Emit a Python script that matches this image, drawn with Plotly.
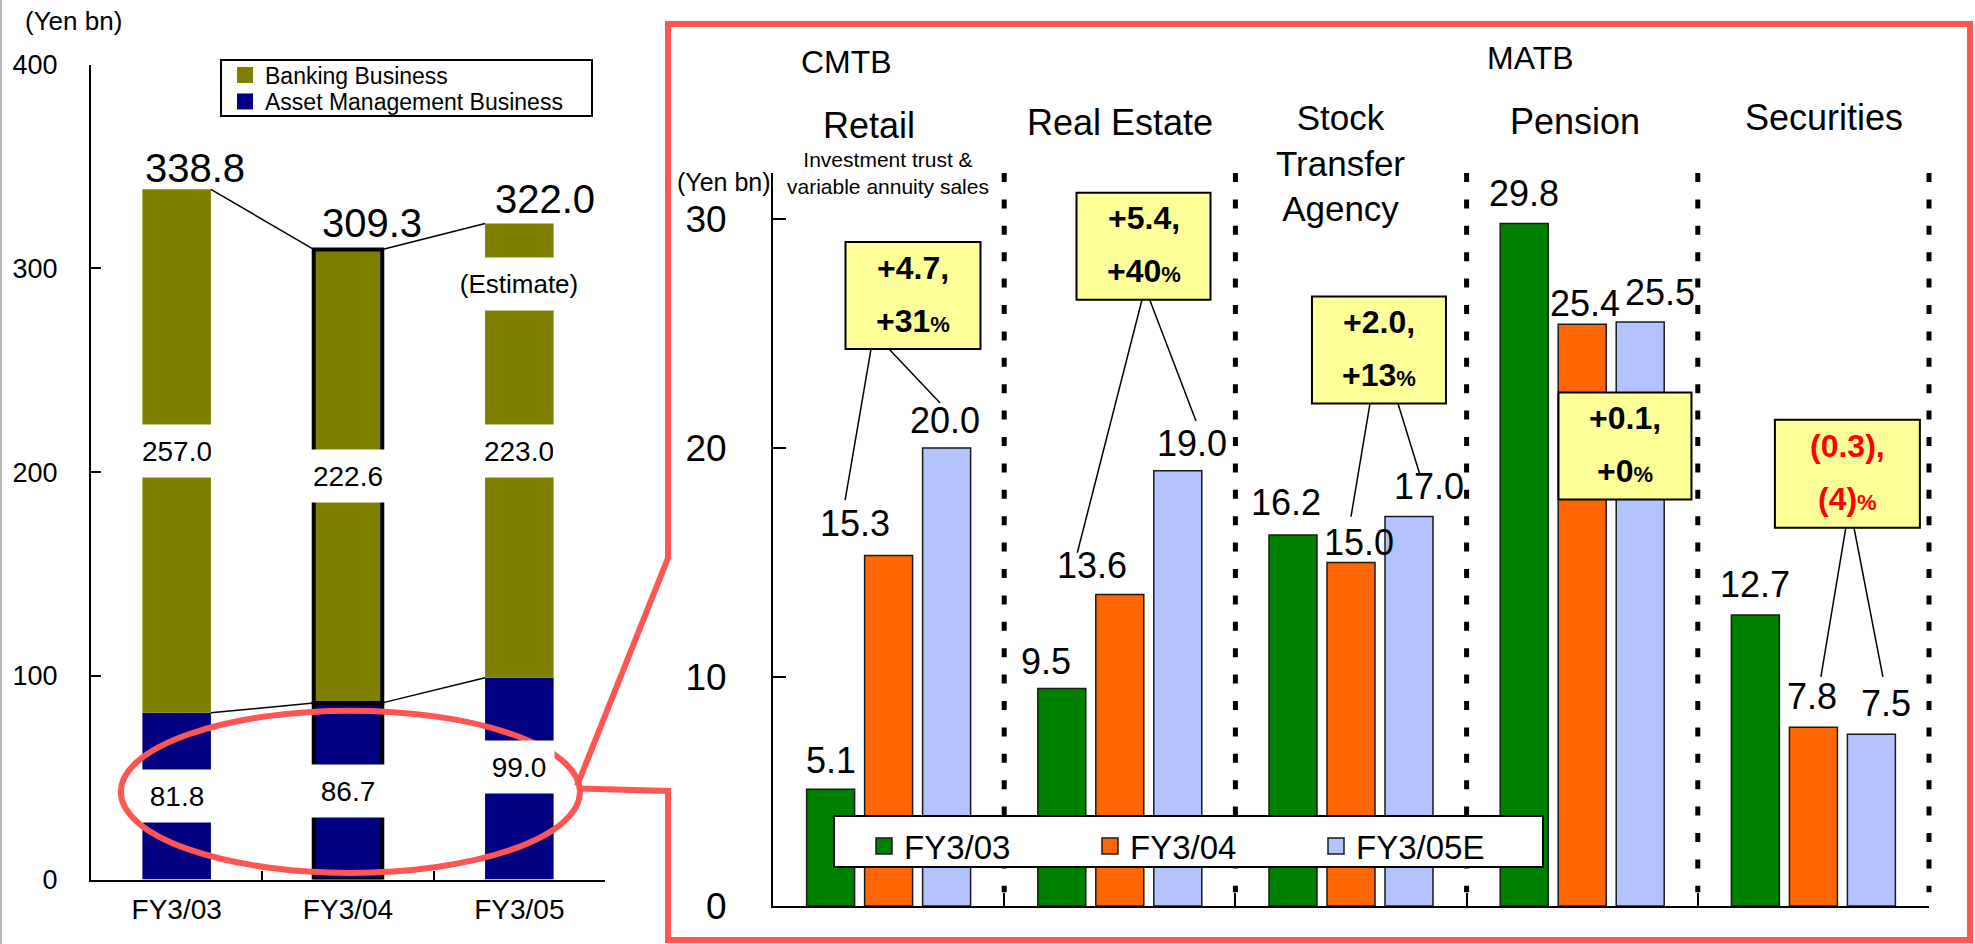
import plotly.graph_objects as go

W, H = 1975, 944

# ---- left panel: gross business profits (Yen bn)
years = ["FY3/03", "FY3/04", "FY3/05"]
asset_mgmt = [81.8, 86.7, 99.0]
banking = [257.0, 222.6, 223.0]
totals = [338.8, 309.3, 322.0]
left_ticks = [0, 100, 200, 300, 400]
business_names = ["Banking Business", "Asset Management Business"]

# ---- right panel: asset management business by segment (Yen bn)
segments = ["Retail", "Real Estate", "Stock<br>Transfer<br>Agency", "Pension", "Securities"]
periods = ["FY3/03", "FY3/04", "FY3/05E"]
fy03 = [5.1, 9.5, 16.2, 29.8, 12.7]
fy04 = [15.3, 13.6, 15.0, 25.4, 7.8]
fy05e = [20.0, 19.0, 17.0, 25.5, 7.5]
right_ticks = [0, 10, 20, 30]

FONT = "Liberation Sans, Arial, sans-serif"
OLIVE, NAVY = "#808000", "#000080"
SERIES_COLORS = ["#008000", "#FF6600", "#B3C3FF"]
FRAME_RED = "#FF5555"
BOX_YELLOW = "#FFFF99"


def px(x):
    return x / W


def py(y):
    return 1 - y / H


# plot-area geometry in pixels
L_LEFT, L_RIGHT = 91, 605
L_BOTTOM, L_TOP = 879.5, 64.7
L_YMAX = 400
R_LEFT, R_RIGHT = 773, 1929
R_BOTTOM, R_TOP = 906, 173
R_YMAX = 32

N_SEG = len(segments)
SEG_PX = (R_RIGHT - R_LEFT) / N_SEG
UNIT_PX = (R_BOTTOM - R_TOP) / R_YMAX
STEP = 58 / SEG_PX
BAR_W = 48 / SEG_PX
L_BAR_W = 0.4

# business legend of the left panel: boxed, two rows
BIZ_BOX = (221, 60, 592, 116)          # left, top, right, bottom
BIZ_ROWS = [75, 101.5]
BIZ_X = 225
# period legend of the right panel: boxed, one row with fixed spacing
PER_BOX = (834, 816, 1543, 867)
PER_STEP = 226


def bar_x(i, j):
    return i + (j - 1) * STEP


def right_to_paper(x, y):
    """Map a data point of the right panel to paper coordinates."""
    return (px(R_LEFT + (x + 0.5) * SEG_PX), py(R_BOTTOM - y * UNIT_PX))


fig = go.Figure()

# ---------------- left: stacked bars
outline = [0, 4, 0]
fig.add_trace(go.Bar(
    x=years, y=asset_mgmt, width=L_BAR_W, name=business_names[1],
    marker=dict(color=NAVY, line=dict(color="black", width=outline)),
    xaxis="x", yaxis="y", showlegend=False, hoverinfo="skip"))
fig.add_trace(go.Bar(
    x=years, y=banking, base=asset_mgmt, width=L_BAR_W, name=business_names[0],
    marker=dict(color=OLIVE, line=dict(color="black", width=outline)),
    xaxis="x", yaxis="y", showlegend=False, hoverinfo="skip"))

business_legends = ["legend", "legend5"]
for k, (name, col) in enumerate(zip(business_names, [OLIVE, NAVY])):
    fig.add_trace(go.Scatter(
        x=[None], y=[None], mode="markers", name=name, legend=business_legends[k],
        marker=dict(symbol="square", size=16, color=col, line=dict(width=0)),
        xaxis="x", yaxis="y"))

# ---------------- right: grouped bars
series = [fy03, fy04, fy05e]
period_legends = ["legend2", "legend3", "legend4"]
for j, (name, vals) in enumerate(zip(periods, series)):
    fig.add_trace(go.Bar(
        x=[bar_x(i, j) for i in range(N_SEG)], y=vals, width=BAR_W, name=name,
        marker=dict(color=SERIES_COLORS[j], line=dict(color="#1a1a1a", width=1.5)),
        xaxis="x2", yaxis="y2", showlegend=False, hoverinfo="skip"))
    fig.add_trace(go.Scatter(
        x=[None], y=[None], mode="markers", name=name, legend=period_legends[j],
        marker=dict(symbol="square", size=16, color=SERIES_COLORS[j],
                    line=dict(color="#1a1a1a", width=1.5)),
        xaxis="x2", yaxis="y2"))

annotations = []
shapes = []

# ---------------- left annotations
total_shift = [(18.5, -2.5), (23.5, 2.3), (26, 0.5)]
for i, v in enumerate(totals):
    annotations.append(dict(
        x=years[i], y=v, xref="x", yref="y", text=f"{v:.1f}", showarrow=False,
        xanchor="center", yanchor="bottom", xshift=total_shift[i][0], yshift=total_shift[i][1],
        font=dict(size=40, color="black")))

box_w = [68, 74, 68]
for i in range(len(years)):
    annotations.append(dict(
        x=years[i], y=asset_mgmt[i] + banking[i] / 2, xref="x", yref="y",
        text=f"{banking[i]:.1f}", showarrow=False, bgcolor="white",
        xanchor="center", yanchor="middle",
        width=box_w[i], height=50, font=dict(size=28, color="black")))
    annotations.append(dict(
        x=years[i], y=asset_mgmt[i] / 2, xref="x", yref="y",
        text=f"{asset_mgmt[i]:.1f}", showarrow=False, bgcolor="white",
        xanchor="center", yanchor="middle", yshift=12 if i == 2 else 0,
        width=box_w[i], height=50, font=dict(size=28, color="black")))

annotations.append(dict(
    x=years[2], y=292.2, xref="x", yref="y", text="(Estimate)", showarrow=False,
    xanchor="center", yanchor="middle",
    bgcolor="white", width=122, height=50, font=dict(size=26, color="black")))

# lines joining bar tops between years
half = L_BAR_W / 2
for level in (totals, asset_mgmt):
    for i in range(len(years) - 1):
        shapes.append(dict(
            type="line", xref="x", yref="y", x0=i + half, y0=level[i],
            x1=i + 1 - half, y1=level[i + 1], line=dict(color="black", width=1.5)))

# ---------------- right annotations
label_shift = [
    [(0, 6.4), (-16, 4.4), (-7.5, 10.4), (0, 7.4), (0, 8.4)],
    [(-34, 9.4), (-27.5, 6.4), (8, -2.6), (2.7, -1.6), (-1.5, 8.4)],
    [(-1.5, 5), (14.5, 4.4), (20, 7.4), (19.5, 6.4), (14.5, 8.4)],
]
for j, vals in enumerate(series):
    for i, v in enumerate(vals):
        dx, dy = label_shift[j][i]
        annotations.append(dict(
            x=bar_x(i, j), y=v, xref="x2", yref="y2", text=f"{v:.1f}",
            showarrow=False, xanchor="center", yanchor="bottom", xshift=dx, yshift=dy,
            font=dict(size=36, color="black")))

# panel headers and unit captions
headers = [
    ("(Yen bn)", 73.6, 21.4, 26),
    ("CMTB", 846.6, 61.7, 32),
    ("MATB", 1530, 58.3, 32),
    ("Retail", 869, 125, 36),
    ("Investment trust &<br>variable annuity sales", 888, 173, 21),
    ("Real Estate", 1120.4, 122.5, 36),
    ("Stock<br>Transfer<br>Agency", 1340, 163, 35),
    ("Pension", 1575, 121.7, 36),
    ("Securities", 1824, 117.5, 36),
    ("(Yen bn)", 723.6, 181.7, 25),
]
for text, hx, hy, fs in headers:
    annotations.append(dict(
        x=px(hx), y=py(hy), xref="paper", yref="paper", text=text, showarrow=False,
        xanchor="center", yanchor="middle", font=dict(size=fs, color="black")))

# dotted separators between segments (paper coordinates so the last one is not clipped)
for b in range(N_SEG):
    x0p, y0p = right_to_paper(b + 0.5, R_YMAX)
    _, y1p = right_to_paper(b + 0.5, 0.6)
    shapes.append(dict(
        type="line", xref="paper", yref="paper", x0=x0p, x1=x0p, y0=y0p, y1=y1p,
        line=dict(color="black", width=5, dash="9px,17.4px")))

# change callouts: FY3/05E vs FY3/04
callouts = [
    # box centre (x, y), box size (px), legs: (start dx px, series, end dx px, end dy px)
    dict(x=0.1055, y=26.65, w=135, h=107, legs=[(-42, 1, -43.5, 55.5), (-24, 2, -6.5, 44.8)]),
    dict(x=1.1025, y=28.80, w=134, h=107, legs=[(-1.5, 1, -42.5, 41.7), (6.2, 2, 18.2, 49.8)]),
    dict(x=2.121, y=24.27, w=134, h=107, legs=[(-9, 1, 0, 45.7), (19, 2, 10.7, 42.6)]),
    dict(x=3.185, y=20.08, w=133, h=107, legs=[]),
    dict(x=4.147, y=18.87, w=145, h=108, legs=[(-1.6, 1, 7.5, 50.5), (6.6, 2, 11.5, 57.4)]),
]
for i, c in enumerate(callouts):
    delta = fy05e[i] - fy04[i]
    pct = round(delta / fy04[i] * 100)
    if delta >= 0:
        line1 = f"+{abs(delta):.1f},"
    else:
        line1 = f"({abs(delta):.1f}),"
    if pct >= 0:
        line2 = f"+{abs(pct)}<span style='font-size:22px'>%</span>"
    else:
        line2 = f"({abs(pct)})<span style='font-size:22px'>%</span>"
    color = "black" if delta >= 0 else "#FF0000"

    shapes.append(dict(
        type="rect", xref="x2", yref="y2", xsizemode="pixel", ysizemode="pixel",
        xanchor=c["x"], yanchor=c["y"], x0=-c["w"] / 2, x1=c["w"] / 2,
        y0=-c["h"] / 2, y1=c["h"] / 2, fillcolor=BOX_YELLOW,
        line=dict(color="black", width=2), layer="above"))
    annotations.append(dict(
        x=c["x"], y=c["y"], xref="x2", yref="y2", text=f"<b>{line1}</b>",
        showarrow=False, xanchor="center", yanchor="middle", yshift=28,
        font=dict(size=32, color=color)))
    annotations.append(dict(
        x=c["x"], y=c["y"], xref="x2", yref="y2", text=f"<b>{line2}</b>",
        showarrow=False, xanchor="center", yanchor="middle", yshift=-25,
        font=dict(size=32, color=color)))

    y_bottom = c["y"] - (c["h"] / 2) / UNIT_PX
    for sdx, j, edx, edy in c["legs"]:
        shapes.append(dict(
            type="line", xref="x2", yref="y2",
            x0=c["x"] + sdx / SEG_PX, y0=y_bottom,
            x1=bar_x(i, j) + edx / SEG_PX, y1=series[j][i] + edy / UNIT_PX,
            line=dict(color="black", width=1.5)))

# frames behind the legend entries
for (l, t, r, b) in (BIZ_BOX, PER_BOX):
    shapes.append(dict(type="rect", xref="paper", yref="paper",
                       x0=px(l), x1=px(r), y0=py(b), y1=py(t),
                       fillcolor="white", line=dict(color="black", width=2), layer="above"))

# ---------------- callout frame and highlight ellipse
frame_pts = [(577, 786), (668, 558), (668, 24), (1970, 24), (1970, 940),
             (668, 940), (668, 791), (579, 788.5)]
path = "M " + " L ".join(f"{px(a):.5f},{py(b):.5f}" for a, b in frame_pts)
shapes.append(dict(type="path", xref="paper", yref="paper", path=path,
                   line=dict(color=FRAME_RED, width=6), layer="above"))
shapes.append(dict(type="circle", xref="paper", yref="paper",
                   x0=px(120.8), x1=px(580), y0=py(872.9), y1=py(710.7),
                   line=dict(color=FRAME_RED, width=6), layer="above"))
shapes.append(dict(type="line", xref="paper", yref="paper", x0=px(1), x1=px(1),
                   y0=0, y1=1, line=dict(color="#B8B8B8", width=2)))

axis_common = dict(showgrid=False, zeroline=False, showline=True, linecolor="black",
                   tickcolor="black", fixedrange=True, automargin=False)

legend_layout = {}
for k, key in enumerate(business_legends):
    legend_layout[key] = dict(
        x=px(BIZ_X), y=py(BIZ_ROWS[k]), xanchor="left", yanchor="middle",
        bgcolor="rgba(0,0,0,0)", borderwidth=0, font=dict(size=23),
        itemwidth=30, indentation=0)
for k, key in enumerate(period_legends):
    legend_layout[key] = dict(
        orientation="h", x=px(PER_BOX[0] + 2 + k * PER_STEP), y=py(PER_BOX[1] + 2),
        xanchor="left", yanchor="top", bgcolor="rgba(0,0,0,0)", borderwidth=0,
        font=dict(size=33), itemwidth=30, indentation=28)

fig.update_layout(
    width=W, height=H, margin=dict(l=0, r=0, t=0, b=0, pad=0, autoexpand=False),
    paper_bgcolor="white", plot_bgcolor="rgba(0,0,0,0)",
    font=dict(family=FONT, color="black"),
    barmode="overlay",
    xaxis=dict(domain=[px(L_LEFT), px(L_RIGHT)], type="category", range=[-0.5, 2.5],
               linewidth=2, ticks="inside", tickson="boundaries", ticklen=9, tickwidth=1.5,
               tickfont=dict(size=28), ticklabelstandoff=4, anchor="y", **axis_common),
    yaxis=dict(domain=[py(L_BOTTOM), py(L_TOP)], range=[0, L_YMAX], tickvals=left_ticks,
               linewidth=2, ticks="inside", ticklen=10, tickwidth=2,
               tickfont=dict(size=27), ticklabelstandoff=26, anchor="x", **axis_common),
    xaxis2=dict(domain=[px(R_LEFT), px(R_RIGHT)], range=[-0.5, N_SEG - 0.5],
                tickvals=[b + 0.5 for b in range(N_SEG)], showticklabels=False,
                linewidth=2, ticks="inside", ticklen=13, tickwidth=1.5, anchor="y2",
                **axis_common),
    yaxis2=dict(domain=[py(R_BOTTOM), py(R_TOP)], range=[0, R_YMAX], tickvals=right_ticks,
                linewidth=2, ticks="inside", ticklen=13, tickwidth=1.5,
                tickfont=dict(size=37), ticklabelstandoff=37, anchor="x2", **axis_common),
    **legend_layout,
    annotations=annotations,
    shapes=shapes,
)

fig.write_html("out.html")
